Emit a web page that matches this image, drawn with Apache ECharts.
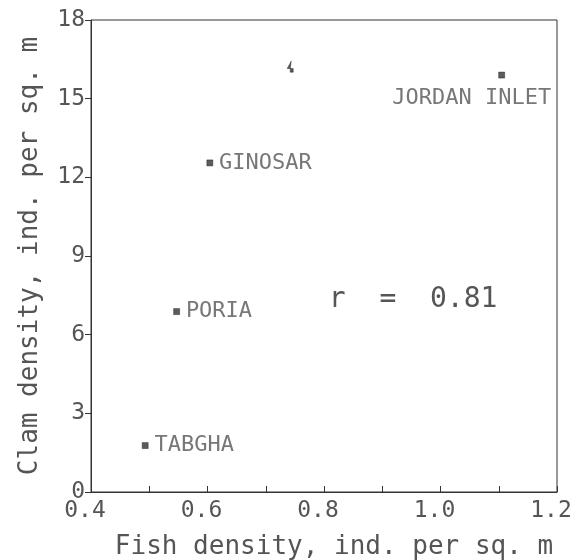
<!DOCTYPE html>
<html><head><meta charset="utf-8">
<script src="https://cdn.jsdelivr.net/npm/echarts@6/dist/echarts.min.js"></script>
<style>html,body{margin:0;padding:0;background:#fff}#c{width:571px;height:560px}</style>
</head><body><div id="c"></div>
<script>
var siteNames = ['TABGHA', 'PORIA', 'GINOSAR', '', 'JORDAN INLET'];
var fishDensity = [0.493, 0.547, 0.604, 0.742, 1.105];
var clamDensity = [1.77, 6.88, 12.55, 16.22, 15.9];
var labelPos = ['right', 'right', 'right', 'right', 'bottom'];
var xTicks = [0.4, 0.6, 0.8, 1.0, 1.2];
var yTicks = [0, 3, 6, 9, 12, 15, 18];
var rText = 'r  =  0.81';
var rPos = [0.953, 7.32];

var FONT = 'DejaVu Sans Mono';
var TXT = '#555';
var data = fishDensity.map(function (x, i) {
  var d = { value: [x, clamDensity[i]], name: siteNames[i] };
  if (labelPos[i] === 'bottom') {
    d.label = { position: 'bottom', offset: [-30, 3] };
  }
  if (i === 3) { d.symbol = 'path://M4,0 L0,8 L6,8 L6,12 L3,12 L3,8 Z'; d.symbolSize = [6, 11]; }
  return d;
});

var chart = echarts.init(document.getElementById('c'));
chart.setOption({
  animation: false,
  backgroundColor: '#fff',
  grid: { left: 91, right: 14, top: 20, bottom: 68, outerBoundsMode: 'none', containLabel: false, show: true, borderColor: '#333', borderWidth: 1, backgroundColor: 'transparent' },
  xAxis: {
    type: 'value', min: 0.4, max: 1.2, interval: 0.1,
    name: 'Fish density, ind. per sq. m', nameLocation: 'middle', nameGap: 42,
    nameTextStyle: { fontFamily: FONT, fontSize: 26, color: TXT, padding: [0, 0, 0, 20] },
    axisLine: { show: true, onZero: false, lineStyle: { color: '#333', width: 1 } },
    axisTick: { show: true, inside: true, length: 6, lineStyle: { color: '#333' } },
    splitLine: { show: false },
    axisLabel: {
      fontFamily: FONT, fontSize: 23, color: TXT, margin: 8, padding: [0, 12, 0, 0],
      formatter: function (v) {
        var r = Math.round(v * 10) / 10;
        for (var i = 0; i < xTicks.length; i++) if (Math.abs(xTicks[i] - r) < 1e-6) return r.toFixed(1);
        return '';
      }
    }
  },
  yAxis: {
    type: 'value', min: 0, max: 18, interval: 3,
    name: 'Clam density, ind. per sq. m', nameLocation: 'middle', nameGap: 48,
    nameTextStyle: { fontFamily: FONT, fontSize: 26, color: TXT },
    axisLine: { show: true, onZero: false, lineStyle: { color: '#333', width: 1 } },
    axisTick: { show: true, inside: false, length: 6, lineStyle: { color: '#333' } },
    splitLine: { show: false },
    axisLabel: {
      fontFamily: FONT, fontSize: 23, color: TXT, margin: 6,
      formatter: function (v) { return yTicks.indexOf(v) >= 0 ? String(v) : ''; }
    }
  },
  series: [{
    type: 'scatter',
    symbol: 'rect', symbolSize: 6,
    itemStyle: { color: '#333', borderColor: '#111', borderWidth: 0.5 },
    label: {
      show: true, position: 'right', distance: 6,
      formatter: '{b}', fontFamily: FONT, fontSize: 22, color: TXT
    },
    data: data,
    markPoint: {
      symbol: 'circle', symbolSize: 0,
      label: { show: true, position: 'inside', formatter: rText, fontFamily: FONT, fontSize: 28, color: TXT },
      data: [{ coord: rPos, value: rText }]
    }
  }]
});
</script>
</body></html>
